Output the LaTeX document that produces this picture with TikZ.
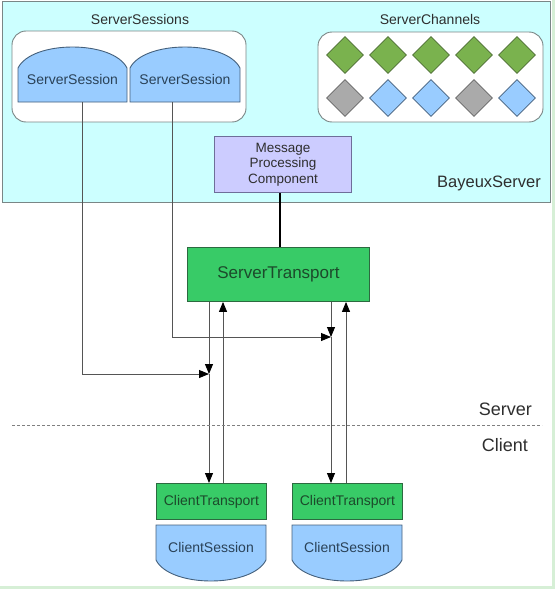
\documentclass[tikz,border=0pt]{standalone}
\usepackage{fontspec}
\setmainfont{Liberation Sans}
\usetikzlibrary{arrows.meta,shapes.geometric}
\definecolor{cyanfill}{HTML}{CCFFFF}
\definecolor{boxline}{HTML}{7A8686}
\definecolor{sessfill}{HTML}{99CCFF}
\definecolor{sessline}{HTML}{44607C}
\definecolor{sesstext}{HTML}{2A4258}
\definecolor{trfill}{HTML}{38CB67}
\definecolor{trline}{HTML}{2C6A40}
\definecolor{trtext}{HTML}{1C4A2B}
\definecolor{mpcfill}{HTML}{CCCCFF}
\definecolor{mpcline}{HTML}{6E6E99}
\definecolor{dgreen}{HTML}{7AB24E}
\definecolor{dgreenline}{HTML}{4D6E34}
\definecolor{dgrey}{HTML}{AAAAAA}
\definecolor{dgreyline}{HTML}{666666}
\definecolor{labeltext}{HTML}{2E2E2E}
\definecolor{framegreen}{HTML}{D6EFD6}
\definecolor{conn}{HTML}{555555}
\tikzset{
  sesspath/.style={fill=sessfill,draw=sessline,line width=0.9pt},
  sesslabel/.style={text=sesstext,font=\fontsize{14}{16}\selectfont,inner sep=0pt},
  trbox/.style={fill=trfill,draw=trline,line width=0.9pt,text=trtext,inner sep=0pt,anchor=north west},
  dia/.style={diamond,minimum width=37pt,minimum height=37pt,inner sep=0pt,line width=0.8pt},
  dg/.style={dia,fill=dgreen,draw=dgreenline},
  dr/.style={dia,fill=dgrey,draw=dgreyline},
  db/.style={dia,fill=sessfill,draw=sessline},
  lbl/.style={text=labeltext,inner sep=0pt},
  arr/.style={draw=conn,line width=0.9pt,-{Triangle[length=10pt,width=8pt,color=black]}},
}
\begin{document}
\begin{tikzpicture}[x=1pt,y=-1pt]
\useasboundingbox (0,0) rectangle (555,589);
% outer frame (right and bottom)
\draw[framegreen,line width=3pt] (553.5,0) -- (553.5,587.5) -- (0,587.5);
% BayeuxServer box
\draw[fill=cyanfill,draw=boxline,line width=1pt] (2.5,1.5) rectangle (550.5,202);
\node[lbl,anchor=east,font=\fontsize{16.5}{18}\selectfont] (bayeux) at (541,183) {BayeuxServer};
% ServerSessions container
\node[lbl,font=\fontsize{14}{16}\selectfont] (sslabel) at (140,19) {ServerSessions};
\draw[fill=white,draw=boxline,line width=0.9pt,rounded corners=14pt] (12,31) rectangle (246,122);
% ServerSession shapes
\draw[sesspath] (18,102) -- (18,68) .. controls (32,40) and (113,40) .. (127,68) -- (127,102) -- cycle;
\node[sesslabel] (ss1) at (72.5,79) {ServerSession};
\draw[sesspath] (130,102) -- (130,68) .. controls (144,40) and (226,40) .. (240,68) -- (240,102) -- cycle;
\node[sesslabel] (ss2) at (185,79) {ServerSession};
\coordinate (ss1b) at (82,102);
\coordinate (ss2b) at (172,102);
% ServerChannels
\node[lbl,font=\fontsize{14}{16}\selectfont] (sclabel) at (430,19) {ServerChannels};
\draw[fill=white,draw=boxline,line width=0.9pt,rounded corners=14pt] (318,32) rectangle (543,122);
\node[dg] (d11) at (345,55) {};
\node[dg] (d12) at (388,55) {};
\node[dg] (d13) at (431,55) {};
\node[dg] (d14) at (474,55) {};
\node[dg] (d15) at (517,55) {};
\node[dr] (d21) at (345,98) {};
\node[db] (d22) at (388,98) {};
\node[db] (d23) at (431,98) {};
\node[dr] (d24) at (474,98) {};
\node[db] (d25) at (517,98) {};
% Message Processing Component
\node[fill=mpcfill,draw=mpcline,line width=0.9pt,text=labeltext,anchor=north west,
      minimum width=137pt,minimum height=56pt,inner sep=0pt,align=center,
      font=\fontsize{13.5}{15.5}\selectfont] (mpc) at (214,136) {Message\\Processing\\Component};
% ServerTransport
\node[trbox,minimum width=182pt,minimum height=54pt,font=\fontsize{17}{19}\selectfont] (st) at (187,247) {ServerTransport};
\draw[black,line width=1.5pt] (mpc.south -| 280,0) -- (st.north -| 280,0);
% Client transports and sessions
\node[trbox,minimum width=110pt,minimum height=36pt,font=\fontsize{14}{16}\selectfont] (ct1) at (156,483) {ClientTransport};
\node[trbox,minimum width=110pt,minimum height=36pt,font=\fontsize{14}{16}\selectfont] (ct2) at (292,483) {ClientTransport};
\draw[sesspath] (156,525) -- (266,525) -- (266,560) .. controls (252,588) and (170,588) .. (156,560) -- cycle;
\node[sesslabel] (cs1) at (211,547) {ClientSession};
\draw[sesspath] (292,525) -- (402,525) -- (402,560) .. controls (388,588) and (306,588) .. (292,560) -- cycle;
\node[sesslabel] (cs2) at (347,547) {ClientSession};
% junctions
\coordinate (j1) at (209,374);
\coordinate (j2) at (331,337);
% connectors
\draw[arr] (st.south -| j1) -- (j1);
\draw[arr] (j1) -- (ct1.north -| j1);
\draw[arr] (ss1b) -- (ss1b |- j1) -- (j1);
\draw[arr] (ct1.north -| 223,0) -- (st.south -| 223,0);
\draw[arr] (st.south -| j2) -- (j2);
\draw[arr] (j2) -- (ct2.north -| j2);
\draw[arr] (ss2b) -- (ss2b |- j2) -- (j2);
\draw[arr] (ct2.north -| 346,0) -- (st.south -| 346,0);
% Server / Client separator
\coordinate (sepL) at (12,425);
\coordinate (sepR) at (542,425);
\draw[draw=gray,line width=1pt,dash pattern=on 3pt off 2pt] (sepL) -- (sepR);
\node[lbl,anchor=east,font=\fontsize{18}{20}\selectfont] (server) at (532,409) {Server};
\node[lbl,anchor=east,font=\fontsize{18}{20}\selectfont] (client) at (528,445) {Client};
\end{tikzpicture}
\end{document}
